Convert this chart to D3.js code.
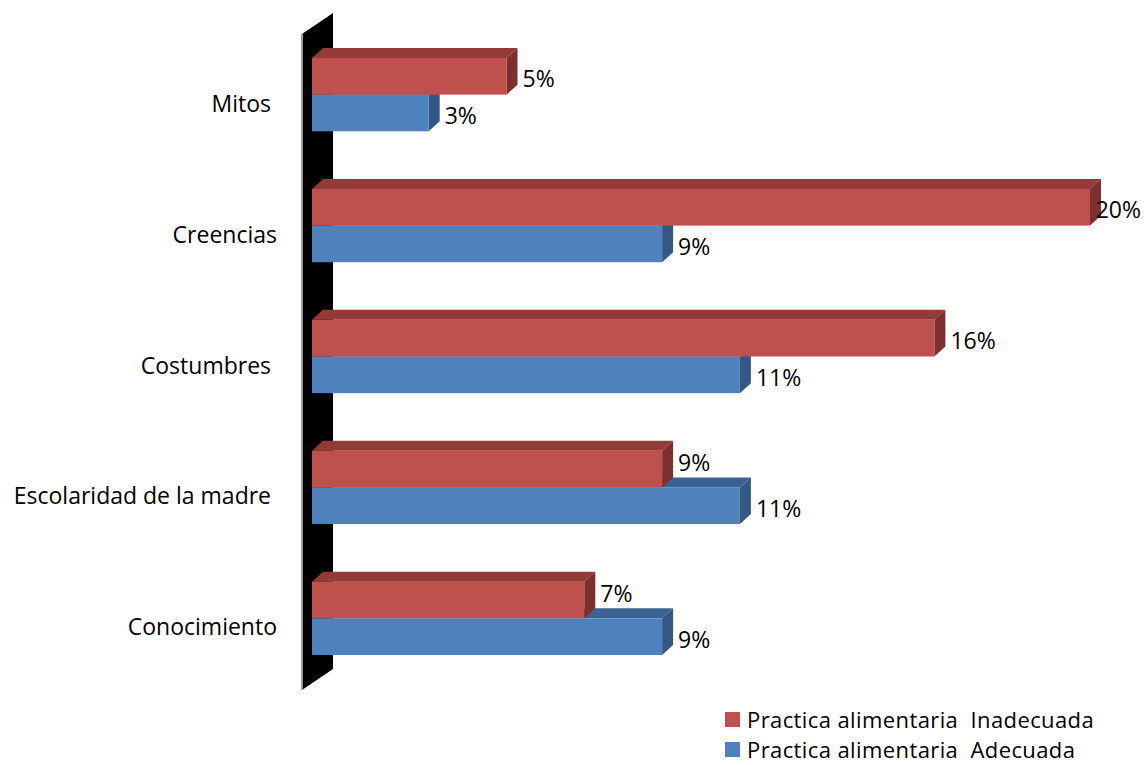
<!DOCTYPE html>
<html>
<head>
<meta charset="utf-8">
<script src="https://cdn.jsdelivr.net/npm/d3@7"></script>
<style>
  html, body { margin: 0; padding: 0; background: #fff; }
  svg text { font-family: "Open Sans", "Liberation Sans", sans-serif; fill: #000; white-space: pre; }
</style>
</head>
<body>
<svg id="chart" width="1144" height="765"></svg>
<script>
// Factores asociados a la práctica alimentaria (porcentajes)
const categories = ["Mitos ", "Creencias", "Costumbres ", "Escolaridad de la madre ", "Conocimiento"];
const seriesNames = ["Practica alimentaria  Inadecuada", "Practica alimentaria  Adecuada"];
const inadecuada = [5, 20, 16, 9, 7];
const adecuada = [3, 9, 11, 11, 9];

const palette = {
  inadecuada: { front: "#C0504D", top: "#943B39", side: "#7D302D" },
  adecuada:   { front: "#4F81BD", top: "#3A6393", side: "#335883" }
};

const svg = d3.select("#chart");
const W = 1144;

// depth offsets for the pseudo-3D look
const bar3d = { dx: 11, dy: -10 };
const wall3d = { dx: 31, dy: -21 };

const x = d3.scaleLinear().domain([0, 20]).range([312, 1090]);
const y = d3.scaleBand().domain(categories).range([58, 655]).paddingInner(0.44).paddingOuter(0).align(0);
const ySeries = d3.scaleBand().domain(seriesNames).range([0, y.bandwidth()]);

// side wall of the plot (black panel)
const wallTop = 34, wallBottom = 690, wallX = 302;
svg.append("path")
  .attr("d", `M${wallX},${wallTop} L${wallX + wall3d.dx},${wallTop + wall3d.dy} L${wallX + wall3d.dx},${wallBottom + wall3d.dy} L${wallX},${wallBottom} Z`)
  .attr("fill", "#000");
svg.append("line")
  .attr("x1", wallX).attr("x2", wallX)
  .attr("y1", wallTop).attr("y2", wallBottom)
  .attr("stroke", "#9a9a9a").attr("stroke-width", 2);

// rows: each category with both series
const rows = categories.map((c, i) => ({
  cat: c,
  values: [
    { name: seriesNames[0], v: inadecuada[i], col: palette.inadecuada },
    { name: seriesNames[1], v: adecuada[i], col: palette.adecuada }
  ]
}));

function drawBar(g, d, cat) {
  const x0 = x(0), x1 = x(d.v);
  const y0 = y(cat) + ySeries(d.name), h = ySeries.bandwidth();
  const { dx, dy } = bar3d;
  g.append("path") // top face
    .attr("d", `M${x0},${y0} L${x0 + dx},${y0 + dy} L${x1 + dx},${y0 + dy} L${x1},${y0} Z`)
    .attr("fill", d.col.top);
  g.append("path") // end face
    .attr("d", `M${x1},${y0} L${x1 + dx},${y0 + dy} L${x1 + dx},${y0 + h + dy} L${x1},${y0 + h} Z`)
    .attr("fill", d.col.side);
  g.append("rect") // front face
    .attr("x", x0).attr("y", y0).attr("width", x1 - x0).attr("height", h)
    .attr("fill", d.col.front);
}

const bars = svg.append("g");
rows.forEach(r => {
  const g = bars.append("g");
  // lower bar first so the upper bar covers its top face
  drawBar(g, r.values[1], r.cat);
  drawBar(g, r.values[0], r.cat);
});

// value labels
const fs = 23;
rows.forEach(r => {
  r.values.forEach((d, k) => {
    const y0 = y(r.cat) + ySeries(d.name), h = ySeries.bandwidth();
    let lx = x(d.v) + bar3d.dx + 5;
    let ly = y0 + h / 2 + 2;
    // upper label lifts when its bar is shorter than the one below
    if (k === 0 && d.v < r.values[1].v) ly -= 9;
    const t = svg.append("text")
      .attr("x", lx).attr("y", ly)
      .attr("dominant-baseline", "central")
      .attr("font-size", fs)
      .text(d.v + "%");
    const w = t.node().getComputedTextLength();
    if (lx + w > W - 3) t.attr("x", W - 3 - w);
  });
});

// category labels
categories.forEach(c => {
  svg.append("text")
    .attr("x", 277)
    .attr("y", y(c) + y.bandwidth() / 2 + 8)
    .attr("text-anchor", "end")
    .attr("dominant-baseline", "central")
    .attr("font-size", fs)
    .text(c);
});

// legend
const legend = svg.append("g").attr("transform", "translate(725,712)");
const legendColors = [palette.inadecuada.front, palette.adecuada.front];
seriesNames.forEach((s, i) => {
  const g = legend.append("g").attr("transform", `translate(0,${i * 30})`);
  g.append("rect").attr("width", 15).attr("height", 15).attr("fill", legendColors[i]);
  g.append("text").attr("x", 22).attr("y", 7).attr("dominant-baseline", "central")
    .attr("font-size", 22).attr("letter-spacing", 0.4).text(s);
});
</script>
</body>
</html>
